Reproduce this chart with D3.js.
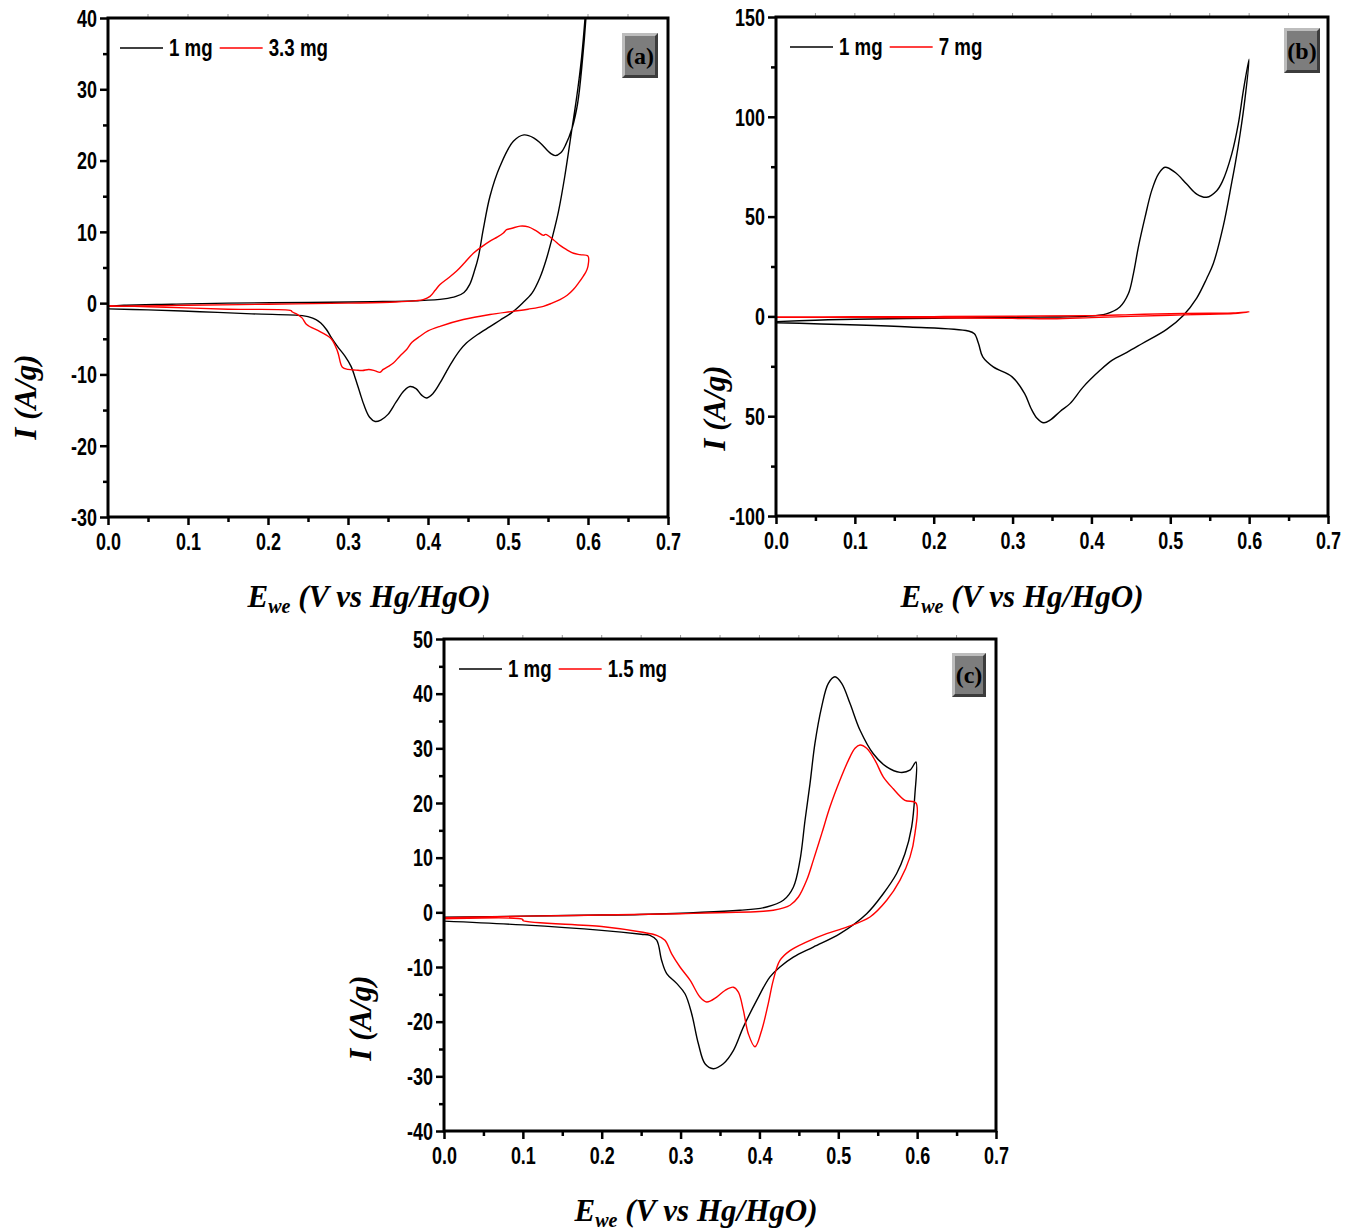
<!DOCTYPE html>
<html>
<head>
<meta charset="utf-8">
<script src="https://cdn.jsdelivr.net/npm/d3@7"></script>
<style>
  html, body { margin: 0; padding: 0; background: #fff; }
  svg { display: block; }
  .tick text { font-family: "Liberation Sans Narrow", "Arial Narrow", "Liberation Sans", sans-serif; font-weight: bold; font-size: 23px; fill: #000; }
  .legend text { font-family: "Liberation Sans Narrow", "Arial Narrow", "Liberation Sans", sans-serif; font-weight: bold; font-size: 24px; fill: #000; }
  .title { font-family: "Liberation Serif", "Times New Roman", serif; font-weight: bold; font-style: italic; font-size: 31px; fill: #000; }
  .tag { font-family: "Liberation Serif", "Times New Roman", serif; font-weight: bold; font-size: 24px; fill: #000; }
</style>
</head>
<body>
<svg id="chart" width="1356" height="1231"></svg>
<script>
// Potential axis ticks (V vs Hg/HgO), shared by all three panels
const xTicks = [0, 0.1, 0.2, 0.3, 0.4, 0.5, 0.6, 0.7];
const xTickLabels = ["0.0", "0.1", "0.2", "0.3", "0.4", "0.5", "0.6", "0.7"];

// Current density ticks for each panel
const yTicksA = [-30, -20, -10, 0, 10, 20, 30, 40];
const yTickLabelsA = ["-30", "-20", "-10", "0", "10", "20", "30", "40"];
const yTicksB = [-100, -50, 0, 50, 100, 150];
const yTickLabelsB = ["-100", "50", "0", "50", "100", "150"];
const yTicksC = [-40, -30, -20, -10, 0, 10, 20, 30, 40, 50];
const yTickLabelsC = ["-40", "-30", "-20", "-10", "0", "10", "20", "30", "40", "50"];

// Series names per panel
const seriesNamesA = ["1 mg", "3.3 mg"];
const seriesNamesB = ["1 mg", "7 mg"];
const seriesNamesC = ["1 mg", "1.5 mg"];

// Cyclic voltammograms: [E (V), I (A/g)], anodic sweep then cathodic sweep
const cvA_1mg = [
  [0.0,-0.45],[0.02,-0.3],[0.08,-0.15],[0.15,0.0],[0.25,0.1],[0.33,0.2],[0.39,0.35],[0.42,0.6],
  [0.435,0.95],[0.445,1.5],[0.452,2.6],[0.458,4.5],[0.463,6.5],[0.469,10.3],[0.4775,15.0],[0.49,19.2],
  [0.5067,22.7],[0.52,23.6],[0.532,23.2],[0.541,22.4],[0.5533,21.0],[0.559,20.7],[0.566,21.1],[0.572,22.2],
  [0.58,24.5],[0.587,28],[0.593,34],[0.598,41],[0.6,46],
  [0.597,41],[0.592,34.5],[0.586,29],[0.58,24.5],[0.571,17.8],[0.563,12.8],[0.556,9.5],[0.548,6.2],
  [0.54,3.6],[0.53,1.4],[0.518,0.0],[0.505,-1.3],[0.49,-2.4],[0.4775,-3.3],[0.462,-4.4],[0.448,-5.6],
  [0.44,-6.6],[0.432,-7.9],[0.423,-9.6],[0.415,-11.2],[0.406,-12.7],[0.398,-13.3],[0.392,-12.9],
  [0.385,-12.0],[0.3775,-11.7],[0.37,-12.3],[0.36,-13.9],[0.35,-15.6],[0.341,-16.4],[0.334,-16.6],
  [0.327,-16.0],[0.32,-14.3],[0.315,-12.6],[0.309,-10.5],[0.304,-8.9],[0.296,-7.4],[0.287,-6.1],
  [0.279,-4.8],[0.273,-3.7],[0.266,-2.8],[0.26,-2.3],[0.25,-1.9],[0.243,-1.75],[0.18,-1.5],
  [0.115,-1.2],[0.05,-0.95],[0.0,-0.8]
];
const cvA_3p3mg = [
  [0.0,-0.45],[0.05,-0.38],[0.1,-0.3],[0.2,-0.15],[0.3,0.0],[0.36,0.15],[0.385,0.35],[0.394,0.5],
  [0.4025,0.95],[0.409,1.8],[0.415,2.6],[0.425,3.5],[0.4358,4.5],[0.446,5.7],[0.4567,7.0],[0.467,7.9],
  [0.4775,8.7],[0.487,9.3],[0.4942,9.85],[0.4983,10.3],[0.505,10.5],[0.515,10.8],[0.5254,10.7],
  [0.5358,10.1],[0.5442,9.5],[0.547,9.65],[0.5567,8.9],[0.565,8.1],[0.5733,7.5],[0.582,7.0],[0.59,6.8],
  [0.6,6.6],
  [0.6,5.2],[0.5975,4.4],[0.5942,3.8],[0.588,2.8],[0.5817,1.9],[0.574,1.1],[0.565,0.5],[0.555,0.0],
  [0.5442,-0.45],[0.525,-0.85],[0.5067,-1.15],[0.4775,-1.6],[0.4442,-2.3],[0.415,-3.25],[0.40,-3.9],
  [0.39,-4.65],[0.38,-5.5],[0.3733,-6.5],[0.365,-7.4],[0.3567,-8.4],[0.35,-8.9],[0.344,-9.3],[0.34,-9.7],
  [0.334,-9.5],[0.326,-9.3],[0.318,-9.45],[0.31,-9.4],[0.3,-9.3],[0.293,-9.0],[0.287,-6.8],[0.279,-5.0],
  [0.265,-4.0],[0.2483,-3.0],[0.2428,-2.1],[0.237,-1.6],[0.23,-1.2],[0.229,-1.05],[0.15,-0.85],
  [0.05,-0.5],[0.0,-0.35]
];
const cvB_1mg = [
  [0.0,-2.6],[0.05,-1.9],[0.1,-1.4],[0.2,-0.9],[0.3,-0.45],[0.3475,-0.3],[0.39,0.0],[0.419,1.3],
  [0.436,4.7],[0.4468,11.3],[0.4532,21.3],[0.4595,34.7],[0.468,49.7],[0.4764,63],[0.4849,71.3],
  [0.4933,74.7],[0.506,72.2],[0.5208,66.3],[0.5335,61.3],[0.5462,59.7],[0.5589,63],[0.566,67.5],
  [0.5779,81.3],[0.5862,96.3],[0.5926,113],[0.5998,128.8],
  [0.5947,109],[0.5884,91],[0.5826,77],[0.5779,67],[0.5673,45.5],[0.5546,26.5],[0.5462,19],[0.5335,9.2],
  [0.5165,0.5],[0.4954,-6.5],[0.464,-13.7],[0.445,-18],[0.426,-22],[0.4109,-27],[0.3897,-35.3],
  [0.3728,-43.7],[0.3606,-47.5],[0.3475,-52],[0.3395,-53.3],[0.331,-51],[0.3233,-46],[0.3153,-38.7],
  [0.2994,-30.3],[0.2755,-25.3],[0.2622,-20.3],[0.2569,-13.7],[0.2516,-8.7],[0.2437,-7.3],
  [0.1694,-5.3],[0.0,-3.2]
];
const cvB_7mg = [
  [0.0,-0.3],[0.1,-0.2],[0.2,-0.1],[0.3,0.1],[0.4,0.4],[0.45,0.9],[0.5,1.4],[0.55,1.6],[0.58,1.7],[0.6,2.3],
  [0.58,1.4],[0.55,1.1],[0.5,0.6],[0.45,0.0],[0.4,-0.6],[0.35,-1.2],[0.3,-1.0],[0.2,-0.7],[0.1,-0.5],[0.0,-0.5]
];
const cvC_1mg = [
  [0.0,-0.9],[0.1,-0.7],[0.2,-0.5],[0.2485,-0.4],[0.3753,0.37],[0.4091,0.97],[0.4303,2.2],[0.443,4.6],
  [0.4514,9.5],[0.4578,16.8],[0.4641,23.5],[0.4704,30.9],[0.4789,37.6],[0.4874,41.9],[0.4958,43.1],
  [0.5043,41.9],[0.5149,38.2],[0.5276,33.3],[0.5444,29.0],[0.5614,26.6],[0.5783,25.6],[0.5909,26],
  [0.5985,27.5],
  [0.5972,21.7],[0.593,15.6],[0.5845,10.7],[0.574,7.1],[0.557,3.4],[0.536,-0.25],[0.5022,-3.9],
  [0.4683,-6.35],[0.443,-8.2],[0.426,-10],[0.4134,-11.8],[0.3965,-16.1],[0.3796,-21],[0.3669,-25.3],
  [0.3542,-27.7],[0.3415,-28.6],[0.331,-27.7],[0.3225,-24],[0.314,-18.5],[0.3056,-14.9],[0.295,-13.0],
  [0.2824,-11.2],[0.276,-8.8],[0.2697,-5.1],[0.2612,-4.2],[0.25,-4.0],[0.2,-3.3],[0.1,-2.3],[0.0,-1.6]
];
const cvC_1p5mg = [
  [0.0,-1.0],[0.05,-0.85],[0.1,-0.7],[0.2,-0.5],[0.3,-0.25],[0.4,0.15],[0.4176,0.37],[0.4388,1.3],
  [0.4494,2.8],[0.46,5.9],[0.4683,9.5],[0.479,14.4],[0.4895,19.3],[0.5022,24.2],[0.5128,27.8],
  [0.5212,30],[0.5276,30.6],[0.536,30],[0.5466,27.8],[0.557,24.8],[0.5697,22.6],[0.5845,20.5],[0.5985,20],
  [0.5972,14.4],[0.5909,10.1],[0.5783,5.9],[0.5614,2.2],[0.5402,-0.85],[0.5107,-2.7],[0.4853,-3.9],
  [0.46,-5.4],[0.4388,-7],[0.426,-8.8],[0.4176,-12.4],[0.4112,-16.7],[0.4028,-21.6],[0.3944,-24.6],
  [0.3859,-22.2],[0.3796,-17.9],[0.3733,-14.6],[0.3669,-13.7],[0.3563,-14.3],[0.3458,-15.5],[0.3331,-16.4],
  [0.3246,-15.5],[0.312,-12.4],[0.2993,-10],[0.2887,-7.6],[0.2802,-5.1],[0.2697,-4.2],[0.25,-3.6],
  [0.2,-2.6],[0.1,-1.5],[0.1,-1.3],[0.0,-1.2]
];

const seriesColors = ["#000000", "#ff0000"];

// horizontal squeeze giving the sans labels a narrow look
const narrow = 0.78;

// Panel geometry and per-panel settings
const panels = [
  { tag: "(a)", left: 108, top: 18, right: 668, bottom: 517,
    yDomain: [-30, 40], yTicks: yTicksA, yLabels: yTickLabelsA, yMinorStep: 5,
    series: [cvA_1mg, cvA_3p3mg], names: seriesNamesA,
    yTitleX: 36, yTitleY: 397, xTitleX: 369, xTitleY: 607,
    tagBox: [622, 33, 36, 45], legendDX: 12 },
  { tag: "(b)", left: 776, top: 17, right: 1328, bottom: 516,
    yDomain: [-100, 150], yTicks: yTicksB, yLabels: yTickLabelsB, yMinorStep: 25,
    series: [cvB_1mg, cvB_7mg], names: seriesNamesB,
    yTitleX: 725, yTitleY: 408, xTitleX: 1022, xTitleY: 607,
    tagBox: [1284, 28, 36, 45], legendDX: 14 },
  { tag: "(c)", left: 444, top: 639, right: 996, bottom: 1131,
    yDomain: [-40, 50], yTicks: yTicksC, yLabels: yTickLabelsC, yMinorStep: 5,
    series: [cvC_1mg, cvC_1p5mg], names: seriesNamesC,
    yTitleX: 371, yTitleY: 1018, xTitleX: 696, xTitleY: 1221,
    tagBox: [952, 653, 34, 44], legendDX: 15 }
];

const svg = d3.select("#chart");
const defs = svg.append("defs");

function range(a, b, step) {
  const out = [];
  for (let v = a; v <= b + 1e-9; v += step) out.push(+v.toFixed(6));
  return out;
}

panels.forEach((p, i) => {
  const x = d3.scaleLinear().domain([0, 0.7]).range([p.left, p.right]);
  const y = d3.scaleLinear().domain(p.yDomain).range([p.bottom, p.top]);
  const g = svg.append("g");

  // clip region for the voltammograms
  defs.append("clipPath").attr("id", "clip" + i)
    .append("rect")
    .attr("x", p.left).attr("y", p.top)
    .attr("width", p.right - p.left).attr("height", p.bottom - p.top);

  // minor ticks
  const xMinor = range(0, 0.7, 0.05).filter(v => !xTicks.some(t => Math.abs(t - v) < 1e-6));
  const yMinor = range(p.yDomain[0], p.yDomain[1], p.yMinorStep).filter(v => !p.yTicks.includes(v));

  const minorX = g.append("g").attr("transform", `translate(0,${p.bottom})`)
    .call(d3.axisBottom(x).tickValues(xMinor).tickSize(5).tickFormat(""));
  const minorY = g.append("g").attr("transform", `translate(${p.left},0)`)
    .call(d3.axisLeft(y).tickValues(yMinor).tickSize(5).tickFormat(""));
  [minorX, minorY].forEach(ax => {
    ax.select(".domain").remove();
    ax.selectAll(".tick line").attr("stroke", "#000").attr("stroke-width", 2.5);
  });

  // light ticks along the top edge
  g.append("g").selectAll("line").data(range(0.05, 0.65, 0.05)).join("line")
    .attr("x1", d => x(d)).attr("x2", d => x(d))
    .attr("y1", p.top - 4).attr("y2", p.top)
    .attr("stroke", "#9a9a9a").attr("stroke-width", 1);

  // major axes
  const xAxis = g.append("g").attr("transform", `translate(0,${p.bottom})`)
    .call(d3.axisBottom(x).tickValues(xTicks).tickSize(8).tickPadding(9)
      .tickFormat((d, k) => xTickLabels[k]));
  const yAxis = g.append("g").attr("transform", `translate(${p.left},0)`)
    .call(d3.axisLeft(y).tickValues(p.yTicks).tickSize(8).tickPadding(3)
      .tickFormat((d, k) => p.yLabels[k]));
  [xAxis, yAxis].forEach(ax => {
    ax.select(".domain").remove();
    ax.selectAll(".tick line").attr("stroke", "#000").attr("stroke-width", 2.5);
    ax.selectAll(".tick text").each(function () {
      const t = d3.select(this);
      t.attr("x", (+t.attr("x") || 0) / narrow).attr("transform", `scale(${narrow},1)`);
    });
  });
  xAxis.selectAll(".tick text").attr("dy", "0.68em");
  yAxis.selectAll(".tick text").attr("dy", "0.36em");

  // voltammogram lines
  const line = d3.line().x(d => x(d[0])).y(d => y(d[1])).curve(d3.curveCatmullRom.alpha(0.5));
  const curves = g.append("g").attr("clip-path", `url(#clip${i})`);
  p.series.forEach((s, k) => {
    curves.append("path").datum(s)
      .attr("d", line)
      .attr("fill", "none")
      .attr("stroke", seriesColors[k])
      .attr("stroke-width", 1.4)
      .attr("stroke-linejoin", "round");
  });

  // frame
  g.append("rect")
    .attr("x", p.left).attr("y", p.top)
    .attr("width", p.right - p.left).attr("height", p.bottom - p.top)
    .attr("fill", "none").attr("stroke", "#000").attr("stroke-width", 3);

  // legend
  const lg = g.append("g").attr("class", "legend");
  let cx = p.left + p.legendDX;
  const ly = p.top + 30;
  p.names.forEach((name, k) => {
    lg.append("line")
      .attr("x1", cx).attr("x2", cx + 43).attr("y1", ly).attr("y2", ly)
      .attr("stroke", seriesColors[k]).attr("stroke-width", 1.6);
    cx += 49;
    const t = lg.append("text")
      .attr("transform", `translate(${cx},${ly + 8}) scale(${narrow},1)`)
      .text(name);
    cx += t.node().getComputedTextLength() * narrow + 7;
  });

  // panel tag with bevelled grey box
  const [bx, by, bw, bh] = p.tagBox;
  const bev = 3;
  const tg = g.append("g");
  tg.append("rect").attr("x", bx).attr("y", by).attr("width", bw).attr("height", bh).attr("fill", "#3c3c3c");
  tg.append("polygon")
    .attr("points", `${bx},${by} ${bx + bw},${by} ${bx + bw - bev},${by + bev} ${bx + bev},${by + bev} ${bx + bev},${by + bh - bev} ${bx},${by + bh}`)
    .attr("fill", "#bdbdbd");
  tg.append("rect").attr("x", bx + bev).attr("y", by + bev)
    .attr("width", bw - 2 * bev).attr("height", bh - 2 * bev).attr("fill", "#7d7d7d");
  tg.append("text").attr("class", "tag")
    .attr("x", bx + bw / 2).attr("y", by + bh / 2 + 8)
    .attr("text-anchor", "middle").text(p.tag);

  // axis titles
  const xt = g.append("text").attr("class", "title")
    .attr("x", p.xTitleX).attr("y", p.xTitleY).attr("text-anchor", "middle");
  xt.append("tspan").text("E");
  xt.append("tspan").attr("font-size", "20px").attr("dy", 6).text("we");
  xt.append("tspan").attr("dy", -6).text(" (V vs Hg/HgO)");

  g.append("text").attr("class", "title")
    .attr("transform", `translate(${p.yTitleX},${p.yTitleY}) rotate(-90)`)
    .attr("text-anchor", "middle")
    .text("I (A/g)");
});
</script>
</body>
</html>
